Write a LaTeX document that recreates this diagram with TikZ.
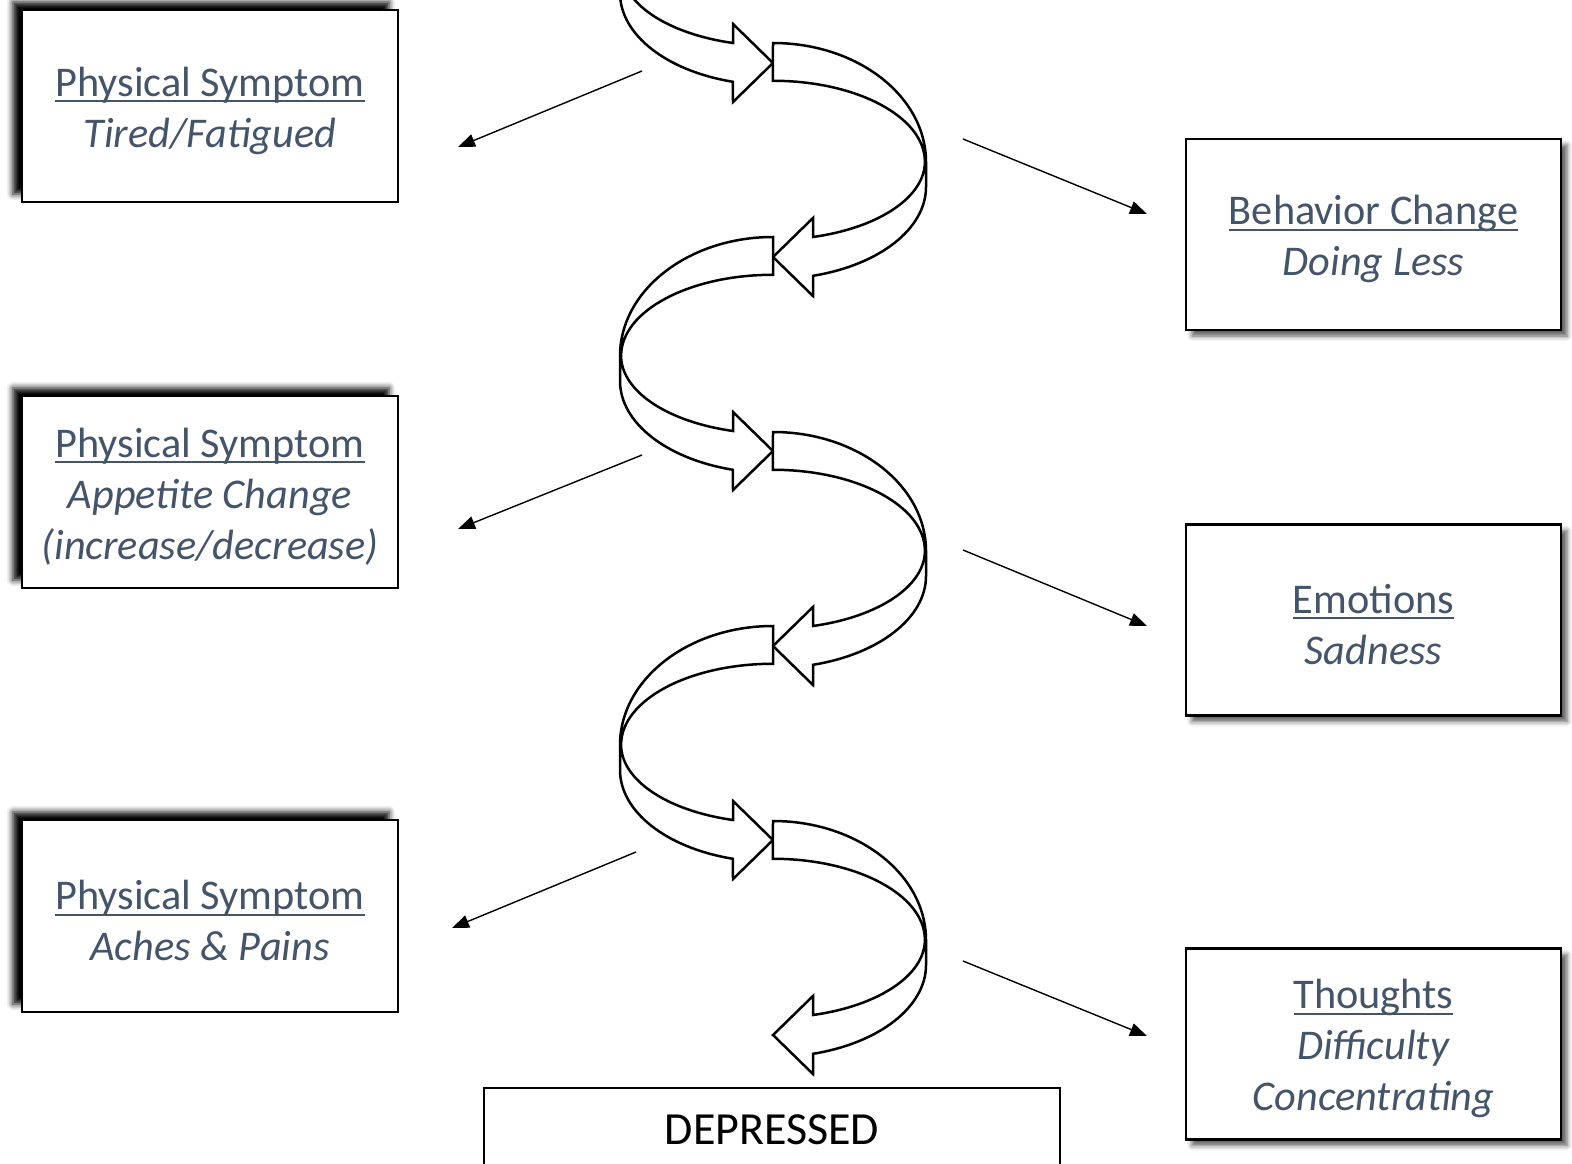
\documentclass[tikz,border=0pt]{standalone}
\usepackage{fontspec}
\setmainfont{Carlito}
\usetikzlibrary{arrows.meta,shadows.blur}
\definecolor{slate}{HTML}{44546A}
% underline set close under the baseline, crossing the descenders
\newcommand\ulin[1]{\setbox0=\hbox{#1}\rlap{\rule[-6pt]{\wd0}{2pt}}\box0}

\begin{document}
\begin{tikzpicture}[x=1pt,y=1pt,
  band/.style={draw=black,line width=2.5pt,fill=white,line join=miter},
  framebox/.style={draw=black,line width=2.5pt,fill=white,
    minimum width=376pt,minimum height=192pt,inner sep=0pt},
  boxtext/.style={align=center,text=slate,inner sep=0pt,
    font=\fontsize{42.3}{51}\selectfont},
  lshadow/.style={blur shadow={shadow xshift=-9pt,shadow yshift=8pt,
    shadow blur radius=6pt,shadow opacity=100}},
  rshadow/.style={blur shadow={shadow xshift=6pt,shadow yshift=-6pt,
    shadow blur radius=5pt,shadow opacity=65}},
  link/.style={line width=1.4pt,-{Triangle[length=17pt,width=13pt]}},
  % curved band turning to the right and back, arrow pointing left
  rlobe/.pic={
    \draw[band] (0,0) arc[start angle=90,end angle=0,x radius=153pt,y radius=119pt]
      -- ++(0,-25)
      arc[start angle=0,end angle=-74.8,x radius=153pt,y radius=92pt]
      -- (40,-253) -- (0,-214) -- (40,-175) -- (40,-194)
      arc[start angle=-74.7,end angle=0,x radius=152pt,y radius=78pt]
      arc[start angle=0,end angle=90,x radius=152pt,y radius=81pt]
      -- cycle;
  },
  % curved band turning to the left and back, arrow pointing right
  llobe/.pic={
    \draw[band] (0,0) arc[start angle=90,end angle=180,x radius=153pt,y radius=119pt]
      -- ++(0,-25)
      arc[start angle=180,end angle=254.8,x radius=153pt,y radius=92pt]
      -- (-40,-253) -- (0,-214) -- (-40,-175) -- (-40,-194)
      arc[start angle=254.7,end angle=180,x radius=152pt,y radius=78pt]
      arc[start angle=180,end angle=90,x radius=152pt,y radius=81pt]
      -- cycle;
  }]

\useasboundingbox (0,0) rectangle (1572,-1164);
\clip (0,0) rectangle (1572,-1164);

% symptom boxes, left column
\node[framebox,lshadow] (tiredbox) at (210,-106) {};
\node[boxtext] (tired) at ([yshift=-4.5pt]tiredbox.center)
  {\ulin{Physical Symptom}\\\textit{Tired/Fatigued}};
\node[framebox,lshadow] (appetitebox) at (210,-492) {};
\node[boxtext] (appetite) at ([yshift=-4.5pt]appetitebox.center)
  {\ulin{Physical Symptom}\\\textit{Appetite Change}\\\textit{(increase/decrease)}};
\node[framebox,lshadow] (achesbox) at (210,-916) {};
\node[boxtext] (aches) at ([yshift=-4.5pt]achesbox.center)
  {\ulin{Physical Symptom}\\\textit{Aches \& Pains}};

% symptom boxes, right column
\node[framebox,rshadow,minimum width=375pt,minimum height=191pt] (behavbox) at (1373.5,-234.5) {};
\node[boxtext] (behav) at ([yshift=-4.5pt]behavbox.center)
  {\ulin{Behavior Change}\\\textit{Doing Less}};
\node[framebox,rshadow,minimum width=375pt,minimum height=191pt] (emobox) at (1373.5,-620) {};
\node[boxtext] (emo) at ([yshift=-4.5pt]emobox.center)
  {\ulin{Emotions}\\\textit{Sadness}};
\node[framebox,rshadow,minimum width=375pt,minimum height=191pt] (thoughtbox) at (1373.5,-1044) {};
\node[boxtext] (thought) at ([yshift=-4.5pt]thoughtbox.center)
  {\ulin{Thoughts}\\\textit{Difficulty}\\\textit{Concentrating}};

% downward spiral
\pic at (773,151) {llobe};
\pic at (773,-43) {rlobe};
\pic at (773,-237) {llobe};
\pic at (773,-432) {rlobe};
\pic at (773,-626) {llobe};
\pic at (773,-821) {rlobe};

% outcome
\node[draw=black,line width=1.5pt,minimum width=576pt,minimum height=84pt,
  anchor=north,inner sep=0pt,font=\fontsize{46}{55}\selectfont] (dep) at (772,-1087) {DEPRESSED};

% pointers from the spiral to the boxes
\coordinate (p1s) at (642,-71);   \coordinate (p1e) at (458,-147);
\coordinate (p2s) at (963,-139);  \coordinate (p2e) at (1147,-214);
\coordinate (p3s) at (642,-455);  \coordinate (p3e) at (458,-529);
\coordinate (p4s) at (963,-550);  \coordinate (p4e) at (1147,-626);
\coordinate (p5s) at (636,-852);  \coordinate (p5e) at (452,-928);
\coordinate (p6s) at (963,-961);  \coordinate (p6e) at (1147,-1036);
\draw[link] (p1s) -- (p1e);
\draw[link] (p2s) -- (p2e);
\draw[link] (p3s) -- (p3e);
\draw[link] (p4s) -- (p4e);
\draw[link] (p5s) -- (p5e);
\draw[link] (p6s) -- (p6e);
\end{tikzpicture}
\end{document}
